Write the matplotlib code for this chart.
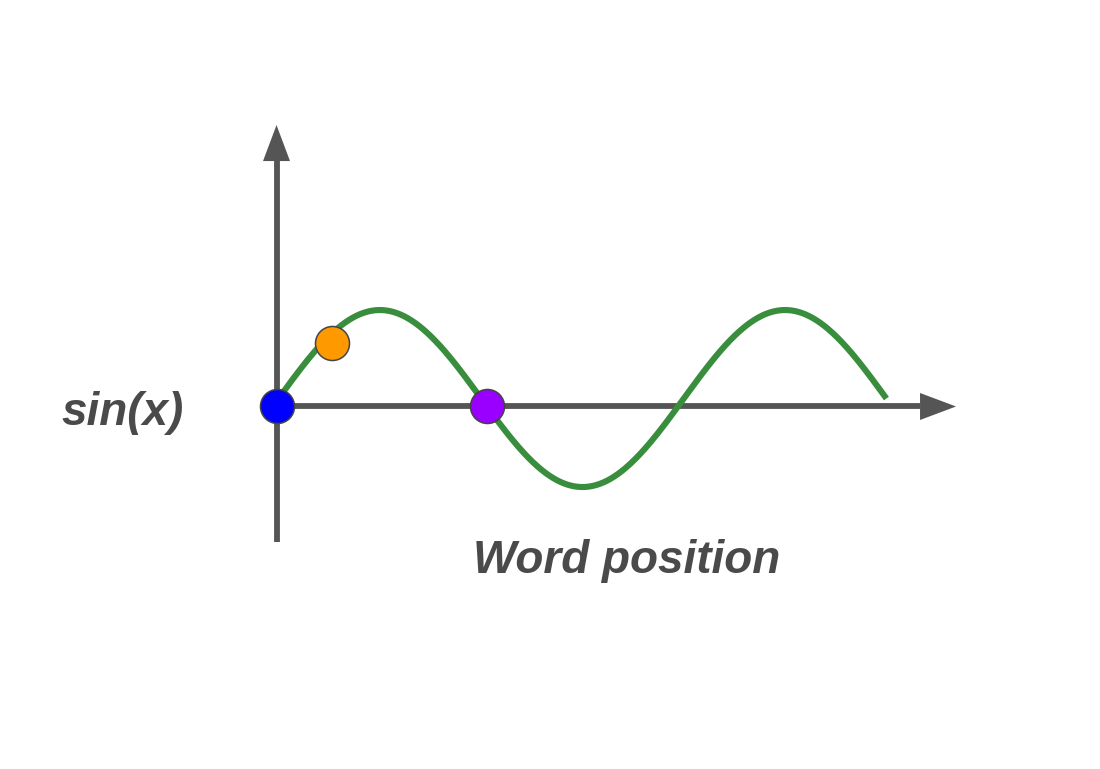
import numpy as np
import matplotlib
matplotlib.use('Agg')
import matplotlib.pyplot as plt

# Data (x in radians, y in units of sin)
CURVE_START = 0.0
CURVE_END = 3 * np.pi
POINT_X = [-0.02, 0.825, 3.227]
POINT_Y = [-0.09, 0.63, -0.09]
POINT_COLORS = ['#0000ff', '#ff9900', '#9900ff']
Y_LABEL = 'sin(x)'
X_LABEL = 'Word position'

# Layout (data units, axes fills the whole figure)
XLIM = (-4.318, 12.736)
YLIM = (-4.186, 4.503)
PX_X = 64.5   # pixels per x unit
PX_Y = 88.5   # pixels per y unit
AXIS_COLOR = '#555555'
TEXT_COLOR = '#4a4a4a'
GREEN = '#388e3c'


def arrow(ax, x0, y0, x1, y1, vertical):
    head_len = 36.0
    head_half = 13.5
    if vertical:
        base = y1 - head_len / PX_Y
        ax.plot([x0, x1], [y0, base], color=AXIS_COLOR, lw=4.2, solid_capstyle='butt', zorder=2)
        hw = head_half / PX_X
        ax.fill([x1 - hw, x1 + hw, x1], [base, base, y1], color=AXIS_COLOR, lw=0, zorder=2)
    else:
        base = x1 - head_len / PX_X
        ax.plot([x0, base], [y0, y1], color=AXIS_COLOR, lw=4.2, solid_capstyle='butt', zorder=2)
        hh = head_half / PX_Y
        ax.fill([base, base, x1], [y1 - hh, y1 + hh, y1], color=AXIS_COLOR, lw=0, zorder=2)


def main():
    fig = plt.figure(figsize=(11, 7.69), dpi=100)
    ax = fig.add_axes([0, 0, 1, 1])
    ax.set_xlim(*XLIM)
    ax.set_ylim(*YLIM)
    ax.axis('off')

    # axes arrows
    arrow(ax, -0.031, -1.621, -0.031, 3.090, vertical=True)
    arrow(ax, -0.031, -0.090, 10.504, -0.090, vertical=False)

    # sine curve
    x = np.linspace(CURVE_START, CURVE_END, 500)
    ax.plot(x, np.sin(x), color=GREEN, lw=4.4, solid_capstyle='butt', zorder=3)

    # points
    for px, py, c in zip(POINT_X, POINT_Y, POINT_COLORS):
        ax.plot(px, py, 'o', ms=24.5, mfc=c, mec='#444444', mew=1.1, zorder=4)

    font = dict(family='Liberation Sans', weight='bold', style='italic',
                size=33, color=TEXT_COLOR)
    ax.text(-2.418, -0.299, Y_LABEL, ha='center', va='baseline', **font)
    ax.text(5.403, -1.972, X_LABEL, ha='center', va='baseline', **font)

    fig.savefig('out.png', dpi=100, facecolor='white')


if __name__ == "__main__":
    main()
